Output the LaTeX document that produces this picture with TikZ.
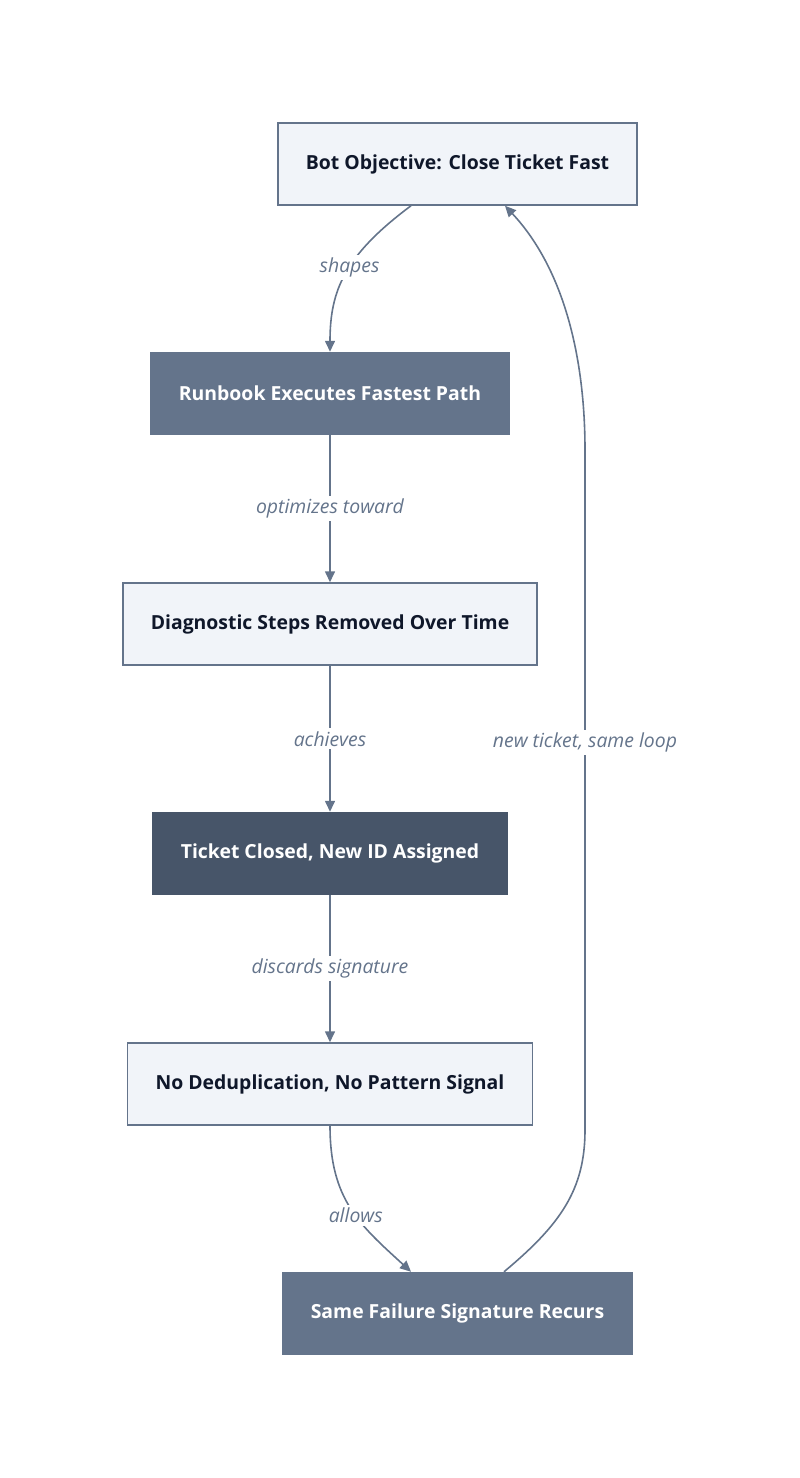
\documentclass[tikz,border=0pt]{standalone}
\usepackage{fontspec}
\setmainfont{Open Sans}
\usetikzlibrary{arrows.meta, positioning}
\definecolor{slate}{HTML}{64748B}
\definecolor{slatedark}{HTML}{475569}
\definecolor{paper}{HTML}{F1F4F9}
\definecolor{ink}{HTML}{0F172A}
\definecolor{lblink}{HTML}{64748B}

\begin{document}
\begin{tikzpicture}[x=1pt, y=-1pt, font=\fontsize{19.4}{23}\selectfont\bfseries, align=center,
    box/.style={minimum height=82pt, inner xsep=28pt, line width=1.5pt},
    lite/.style={box, draw=slate, fill=paper, text=ink},
    mid/.style={box, draw=slate, fill=slate, text=white},
    dark/.style={box, draw=slatedark, fill=slatedark, text=white},
    arrow/.style={-{Triangle[length=11pt, width=10pt]}, line width=1.6pt, draw=slate},
    lbl/.style={fill=white, inner sep=3pt, text=lblink, font=\fontsize{19.4}{23}\selectfont\itshape}
]
    \useasboundingbox (0,0) rectangle (800,1478);
    \node[lite] (goal) at (457.5,164) {Bot Objective: Close Ticket Fast};
    \node[mid] (runbook) at (330,393.5) {Runbook Executes Fastest Path};
    \node[lite] (diag) at (330,624) {Diagnostic Steps Removed Over Time};
    \node[dark] (closed) at (330,853.5) {Ticket Closed, New ID Assigned};
    \node[lite] (nodedup) at (330,1084) {No Deduplication, No Pattern Signal};
    \node[mid] (recur) at (457.5,1313.5) {Same Failure Signature Recurs};
    \coordinate (loopB) at (585,1130);
    \coordinate (loopT) at (585,450);
    \draw[arrow] (goal.south -| 411,0) .. controls (345,255) and (330,290) .. node[lbl, pos=0.45]{shapes} (runbook.north);
    \draw[arrow] (runbook) -- node[lbl]{optimizes toward} (diag);
    \draw[arrow] (diag) -- node[lbl]{achieves} (closed);
    \draw[arrow] (closed) -- node[lbl]{discards signature} (nodedup);
    \draw[arrow] (nodedup.south) .. controls (330,1200) and (360,1225) .. node[lbl, pos=0.55]{allows} (recur.north -| 411,0);
    \draw[arrow] (recur.north -| 504,0) .. controls (560,1225) and (585,1190) .. (loopB)
        -- node[lbl, pos=0.57]{new ticket, same loop} (loopT)
        .. controls (585,360) and (565,270) .. (goal.south -| 505,0);
\end{tikzpicture}
\end{document}
